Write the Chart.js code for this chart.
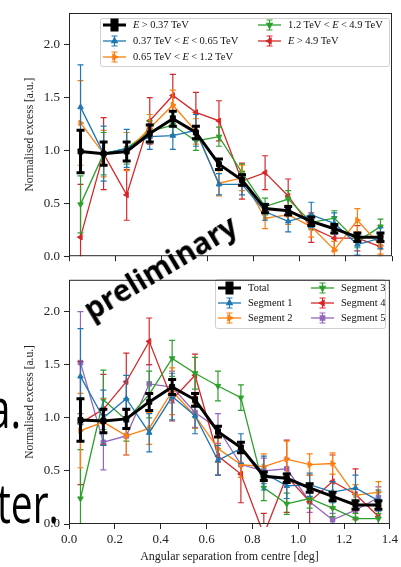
<!DOCTYPE html>
<html>
<head>
<meta charset="utf-8">
<script src="https://cdn.jsdelivr.net/npm/chart.js@4.4.1/dist/chart.umd.min.js"></script>
<style>
html, body { margin: 0; padding: 0; background: #fff; overflow: hidden; }
#wrap { position: relative; width: 401px; height: 567px; }
canvas { position: absolute; left: 0; }
#topChart { top: 0; }
#botChart { top: 268px; }
.slide { position: absolute; font-family: "Open Sans", sans-serif; color: #000; white-space: nowrap; line-height: 1; }
</style>
</head>
<body>
<div id="wrap">
  <canvas id="topChart" width="401" height="268"></canvas>
  <canvas id="botChart" width="401" height="299"></canvas>
  <div class="slide" style="right:380px; top:380px; font-size:54px; transform:scaleX(0.75); transform-origin:right center;">a.</div>
  <div class="slide" style="left:-3px; top:475px; font-size:54px; transform:scaleX(0.72); transform-origin:left center;">ter.</div>
  <div class="slide" style="left:160px; top:267px; font-size:29.5px; font-weight:700; transform:translate(-50%,-50%) rotate(-31deg);">preliminary</div>
</div>
<script>
// --- DATA ---
const xCentres = [0.05, 0.15, 0.25, 0.35, 0.45, 0.55, 0.65, 0.75, 0.85, 0.95, 1.05, 1.15, 1.25, 1.35];
const xTicks = [0.0, 0.2, 0.4, 0.6, 0.8, 1.0, 1.2, 1.4];
const yTicks = [0.0, 0.5, 1.0, 1.5, 2.0];

// energy bands (top panel)
const energyLabels = ['E > 0.37 TeV', '0.37 TeV < E < 0.65 TeV', '0.65 TeV < E < 1.2 TeV', '1.2 TeV < E < 4.9 TeV', 'E > 4.9 TeV'];
const eAll = [0.99, 0.97, 0.99, 1.16, 1.30, 1.17, 0.87, 0.72, 0.45, 0.43, 0.33, 0.26, 0.18, 0.18];
const eAllErr = [0.20, 0.11, 0.09, 0.08, 0.07, 0.06, 0.05, 0.05, 0.04, 0.04, 0.04, 0.04, 0.04, 0.04];
const eLow = [1.41, 0.97, 1.02, 1.13, 1.14, 1.19, 0.68, 0.68, 0.42, 0.33, 0.39, 0.31, 0.11, 0.17];
const eLowErr = [0.40, 0.26, 0.18, 0.12, 0.13, 0.15, 0.10, 0.10, 0.08, 0.10, 0.12, 0.10, 0.10, 0.10];
const eMid = [1.26, 0.97, 0.99, 1.21, 1.43, 1.18, 0.69, 0.74, 0.36, 0.39, 0.28, 0.06, 0.34, 0.10];
const eMidErr = [0.40, 0.22, 0.18, 0.13, 0.14, 0.12, 0.12, 0.12, 0.10, 0.09, 0.10, 0.08, 0.11, 0.08];
const eHigh = [0.49, 0.97, 1.02, 1.18, 1.24, 1.09, 1.13, 0.79, 0.47, 0.54, 0.32, 0.36, 0.14, 0.28];
const eHighErr = [0.27, 0.20, 0.15, 0.10, 0.09, 0.09, 0.09, 0.08, 0.08, 0.08, 0.07, 0.07, 0.06, 0.07];
const eTop = [0.18, 0.97, 0.58, 1.28, 1.52, 1.36, 1.28, 0.71, 0.79, 0.57, 0.27, 0.17, 0.17, 0.09];
const eTopErr = [0.50, 0.34, 0.24, 0.22, 0.20, 0.19, 0.19, 0.17, 0.16, 0.16, 0.14, 0.12, 0.12, 0.10];

// segments (bottom panel)
const segLabels = ['Total', 'Segment 1', 'Segment 2', 'Segment 3', 'Segment 4', 'Segment 5'];
const segTotal = [0.98, 0.97, 0.99, 1.15, 1.29, 1.17, 0.87, 0.72, 0.45, 0.43, 0.34, 0.26, 0.18, 0.18];
const segTotalErr = [0.20, 0.11, 0.09, 0.08, 0.07, 0.06, 0.05, 0.05, 0.04, 0.04, 0.04, 0.04, 0.04, 0.04];
const seg1 = [1.39, 1.00, 1.18, 0.86, 1.20, 1.02, 0.60, 0.71, 0.48, 0.36, 0.37, 0.30, 0.34, 0.22];
const seg1Err = [0.45, 0.26, 0.22, 0.18, 0.22, 0.17, 0.14, 0.14, 0.16, 0.12, 0.11, 0.10, 0.12, 0.10];
const seg2 = [0.88, 0.96, 0.83, 0.90, 1.25, 1.02, 0.71, 0.56, 0.54, 0.61, 0.56, 0.57, 0.27, 0.30];
const seg2Err = [0.35, 0.22, 0.18, 0.15, 0.22, 0.12, 0.13, 0.12, 0.12, 0.17, 0.10, 0.10, 0.10, 0.10];
const seg3 = [0.24, 1.17, 0.98, 1.22, 1.56, 1.42, 1.30, 1.19, 0.34, 0.19, 0.24, 0.15, 0.05, 0.05];
const seg3Err = [0.46, 0.28, 0.20, 0.22, 0.17, 0.15, 0.14, 0.12, 0.12, 0.10, 0.09, 0.08, 0.05, 0.05];
const seg4 = [0.95, 1.08, 1.34, 1.72, 1.17, 1.40, 0.64, 0.47, -0.10, 0.45, 0.21, 0.40, 0.28, 0.07];
const seg4Err = [0.58, 0.33, 0.27, 0.22, 0.20, 0.20, 0.18, 0.27, 0.20, 0.34, 0.25, 0.25, 0.24, 0.10];
const seg5 = [1.52, 0.77, 0.83, 1.32, 1.29, 1.05, 0.90, 0.56, 0.50, 0.52, 0.21, 0.04, 0.13, 0.25];
const seg5Err = [0.48, 0.26, 0.18, 0.18, 0.15, 0.14, 0.14, 0.12, 0.12, 0.10, 0.10, 0.06, 0.08, 0.10];

const BLACK = '#000000', BLUE = '#1f77b4', ORANGE = '#ff7f0e', GREEN = '#2ca02c', RED = '#d62728', PURPLE = '#9467bd';
const SERIF = '"Liberation Serif", "DejaVu Serif", serif';

// --- PLUGINS ---

// vertical error bars with caps, drawn through the y scale
const errorBars = {
    id: 'errorBars',
    afterDatasetDraw(chart, args) {
        const ds = chart.data.datasets[args.index];
        if (!ds.errors) return;
        const ctx = chart.ctx, ys = chart.scales.y, a = chart.chartArea;
        ctx.save();
        ctx.beginPath();
        ctx.rect(a.left, a.top, a.right - a.left, a.bottom - a.top);
        ctx.clip();
        ctx.strokeStyle = ds.borderColor;
        ctx.lineWidth = ds.errWidth;
        const c = ds.capSize;
        args.meta.data.forEach((pt, i) => {
            const v = ds.data[i].y, e = ds.errors[i];
            const y1 = ys.getPixelForValue(v + e), y2 = ys.getPixelForValue(v - e);
            ctx.beginPath();
            ctx.moveTo(pt.x, y1); ctx.lineTo(pt.x, y2);
            ctx.moveTo(pt.x - c, y1); ctx.lineTo(pt.x + c, y1);
            ctx.moveTo(pt.x - c, y2); ctx.lineTo(pt.x + c, y2);
            ctx.stroke();
        });
        ctx.restore();
    }
};

// axes frame (all four sides)
const frame = {
    id: 'frame',
    afterDraw(chart) {
        const { ctx, chartArea: a } = chart;
        ctx.save();
        ctx.strokeStyle = '#262626';
        ctx.lineWidth = 1;
        ctx.strokeRect(a.left + 0.5, a.top + 0.5, a.right - a.left - 1, a.bottom - a.top - 1);
        ctx.restore();
    }
};

function drawLabel(ctx, text, x, y) {
    ctx.fillStyle = '#111';
    ctx.textBaseline = 'middle';
    ctx.textAlign = 'left';
    const space = 2.4;
    text.split(' ').forEach(tok => {
        ctx.font = (tok === 'E' ? 'italic ' : '') + '10.5px ' + SERIF;
        ctx.fillText(tok, x, y);
        x += ctx.measureText(tok).width + space;
    });
}

// matplotlib-like legend: boxed, two columns filled column by column
const boxLegend = {
    id: 'boxLegend',
    afterDatasetsDraw(chart, args, opts) {
        const ctx = chart.ctx;
        ctx.save();
        ctx.fillStyle = 'rgba(255,255,255,0.85)';
        ctx.strokeStyle = '#d0d0d0';
        ctx.lineWidth = 1;
        ctx.beginPath();
        ctx.roundRect(opts.x + 0.5, opts.y + 0.5, opts.w, opts.h, 2);
        ctx.fill();
        ctx.stroke();
        chart.data.datasets.forEach((ds, i) => {
            const col = Math.floor(i / opts.rows), row = i % opts.rows;
            const x0 = opts.colX[col], y = opts.rowY[row];
            const xm = x0 + opts.lineLen / 2;
            ctx.strokeStyle = ds.borderColor;
            ctx.fillStyle = ds.borderColor;
            ctx.lineWidth = ds.borderWidth;
            ctx.beginPath();
            ctx.moveTo(x0, y); ctx.lineTo(x0 + opts.lineLen, y);
            ctx.stroke();
            ctx.lineWidth = ds.errWidth;
            ctx.beginPath();
            ctx.moveTo(xm, y - 5); ctx.lineTo(xm, y + 5);
            ctx.moveTo(xm - ds.capSize, y - 5); ctx.lineTo(xm + ds.capSize, y - 5);
            ctx.moveTo(xm - ds.capSize, y + 5); ctx.lineTo(xm + ds.capSize, y + 5);
            ctx.stroke();
            Chart.helpers.drawPoint(ctx, {
                pointStyle: ds.pointStyle, radius: ds.pointRadius,
                rotation: ds.pointRotation || 0, borderWidth: ds.pointBorderWidth
            }, xm, y);
            drawLabel(ctx, ds.label, x0 + opts.textDx, y + 0.5);
        });
        ctx.restore();
    }
};

// --- CHART BUILDING ---

function series(label, values, errs, color, style, rot, bold) {
    return {
        label: label,
        data: xCentres.map((x, i) => ({ x: x, y: values[i] })),
        errors: errs,
        borderColor: color,
        backgroundColor: color,
        borderWidth: bold ? 3 : 1.3,
        errWidth: bold ? 3 : 1.2,
        capSize: bold ? 4 : 3,
        pointStyle: style,
        pointRotation: rot,
        pointRadius: bold ? 3.5 : 3.2,
        pointBorderWidth: 1,
        pointHoverRadius: 3.5,
        tension: 0,
        fill: false,
        clip: 3
    };
}

function makePanel(id, datasets, showX, legendOpts, padTop) {
    const ctx = document.getElementById(id).getContext('2d');
    return new Chart(ctx, {
        type: 'line',
        data: { datasets: datasets },
        options: {
            responsive: false,
            animation: false,
            events: [],
            layout: { padding: { left: 0, right: 9, top: padTop, bottom: 0 } },
            plugins: {
                legend: { display: false },
                tooltip: { enabled: false },
                boxLegend: legendOpts
            },
            scales: {
                x: {
                    type: 'linear',
                    min: 0, max: 1.4,
                    afterBuildTicks: s => { s.ticks = xTicks.map(v => ({ value: v })); },
                    afterFit: s => { s.height = showX ? 43 : 6; },
                    grid: { drawOnChartArea: false, drawTicks: true, tickLength: 5, color: '#262626' },
                    border: { display: false },
                    ticks: {
                        display: showX, autoSkip: false, maxRotation: 0, padding: 3,
                        color: '#222', font: { family: SERIF, size: 13 },
                        callback: v => v.toFixed(1)
                    },
                    title: {
                        display: showX, text: 'Angular separation from centre [deg]',
                        color: '#222', font: { family: SERIF, size: 12 },
                        padding: { top: 0, bottom: 3 }
                    }
                },
                y: {
                    min: 0, max: 2.3,
                    afterBuildTicks: s => { s.ticks = yTicks.map(v => ({ value: v })); },
                    afterFit: s => { s.width = 69; },
                    grid: { drawOnChartArea: false, drawTicks: true, tickLength: 5, color: '#262626' },
                    border: { display: false },
                    ticks: {
                        padding: 4, color: '#222', font: { family: SERIF, size: 13 },
                        callback: v => v.toFixed(1)
                    },
                    title: {
                        display: true, text: 'Normalised excess [a.u.]',
                        color: '#222', font: { family: SERIF, size: 11.5 },
                        padding: { top: 23, bottom: 0 }
                    }
                }
            }
        },
        plugins: [errorBars, boxLegend, frame]
    });
}

makePanel('topChart', [
    series(energyLabels[0], eAll, eAllErr, BLACK, 'rect', 0, true),
    series(energyLabels[1], eLow, eLowErr, BLUE, 'triangle', 0),
    series(energyLabels[2], eMid, eMidErr, ORANGE, 'triangle', 90),
    series(energyLabels[3], eHigh, eHighErr, GREEN, 'triangle', 180),
    series(energyLabels[4], eTop, eTopErr, RED, 'triangle', 270)
], false, {
    x: 100, y: 18, w: 289, h: 48, rows: 3,
    colX: [103, 258], rowY: [25, 41, 57], lineLen: 23, textDx: 30
}, 13);

makePanel('botChart', [
    series(segLabels[0], segTotal, segTotalErr, BLACK, 'rect', 0, true),
    series(segLabels[1], seg1, seg1Err, BLUE, 'triangle', 0),
    series(segLabels[2], seg2, seg2Err, ORANGE, 'triangle', 90),
    series(segLabels[3], seg3, seg3Err, GREEN, 'triangle', 180),
    series(segLabels[4], seg4, seg4Err, RED, 'triangle', 270),
    series(segLabels[5], seg5, seg5Err, PURPLE, 'rect', 0)
], true, {
    x: 215, y: 11, w: 170, h: 49, rows: 3,
    colX: [218, 311], rowY: [20, 35, 50], lineLen: 23, textDx: 30
}, 6);
</script>
</body>
</html>
